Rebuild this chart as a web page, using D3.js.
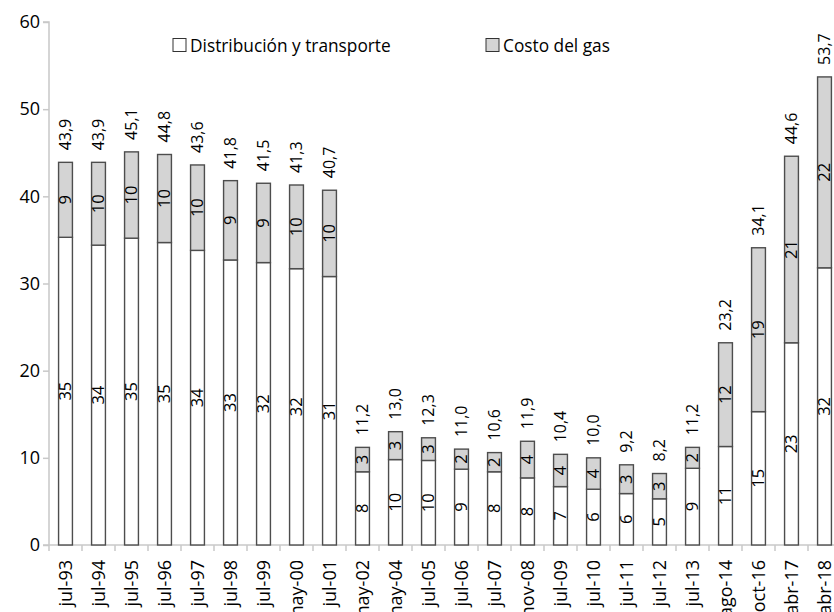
<!DOCTYPE html>
<html>
<head>
<meta charset="utf-8">
<script src="https://cdn.jsdelivr.net/npm/d3@7"></script>
<style>
  html, body { margin: 0; padding: 0; background: #fff; }
  svg { display: block; font-family: "Open Sans", sans-serif; }
</style>
</head>
<body>
<svg id="chart" width="834" height="612"></svg>
<script>
const categories = ["jul-93","jul-94","jul-95","jul-96","jul-97","jul-98","jul-99","may-00","jul-01","may-02","may-04","jul-05","jul-06","jul-07","nov-08","jul-09","jul-10","jul-11","jul-12","jul-13","ago-14","oct-16","abr-17","abr-18"];
const distribucion = [35.3,34.4,35.2,34.7,33.8,32.7,32.4,31.7,30.8,8.4,9.8,9.7,8.7,8.4,7.7,6.7,6.4,5.9,5.3,8.8,11.3,15.3,23.2,31.8];
const costoGas     = [8.6,9.5,9.9,10.1,9.8,9.1,9.1,9.6,9.9,2.8,3.2,2.6,2.3,2.2,4.2,3.7,3.6,3.3,2.9,2.4,11.9,18.8,21.4,21.9];
const seriesNames = ["Distribución y transporte", "Costo del gas"];
const seriesColors = ["#ffffff", "#d4d4d4"];
const yTicks = [0,10,20,30,40,50,60];

const svg = d3.select("#chart");
const axisX = 49, x1 = 49 + 24*33, y0 = 545, yTop = 22;

const x = d3.scaleBand().domain(categories).range([axisX, x1]).paddingInner(0.58).paddingOuter(0.29);
const y = d3.scaleLinear().domain([0, 60]).range([y0, yTop]);

const data = categories.map((c, i) => ({cat: c, d: distribucion[i], g: costoGas[i], t: distribucion[i] + costoGas[i]}));
const fmt = v => d3.format(".1f")(v).replace(".", ",");

// Y axis
const yAxis = d3.axisLeft(y).tickValues(yTicks).tickSize(6).tickPadding(3).tickFormat(d3.format("d"));
const gy = svg.append("g").attr("transform", `translate(${axisX},0)`).call(yAxis);
gy.select(".domain").attr("stroke", "#c8c8c8").attr("stroke-width", 1.5).attr("d", `M-6,${yTop}H0V${y0}`);
gy.selectAll(".tick line").attr("stroke", "#c8c8c8").attr("stroke-width", 1.5);
gy.selectAll(".tick text").attr("font-size", 18).attr("fill", "#000").attr("font-family", "Open Sans, sans-serif");

// X axis (ticks at band boundaries)
const boundaries = d3.range(categories.length + 1).map(i => axisX + i * x.step());
svg.append("line").attr("x1", axisX - 6).attr("x2", 834).attr("y1", y0).attr("y2", y0)
  .attr("stroke", "#c8c8c8").attr("stroke-width", 1.5);
svg.append("g").selectAll("line").data(boundaries).join("line")
  .attr("x1", d => d).attr("x2", d => d).attr("y1", y0).attr("y2", y0 + 6)
  .attr("stroke", "#c8c8c8").attr("stroke-width", 1.5);

// Bars
const barG = svg.append("g");
barG.selectAll("rect.dist").data(data).join("rect").attr("class", "dist")
  .attr("x", d => x(d.cat)).attr("width", x.bandwidth())
  .attr("y", d => y(d.d)).attr("height", d => y0 - y(d.d))
  .attr("fill", seriesColors[0]).attr("stroke", "#4d4d4d").attr("stroke-width", 1.4);
barG.selectAll("rect.gas").data(data).join("rect").attr("class", "gas")
  .attr("x", d => x(d.cat)).attr("width", x.bandwidth())
  .attr("y", d => y(d.t)).attr("height", d => y(d.d) - y(d.t))
  .attr("fill", seriesColors[1]).attr("stroke", "#4d4d4d").attr("stroke-width", 1.4);

// Segment labels
const cx = d => x(d.cat) + x.bandwidth() / 2;
function vlabel(sel, px, py, txt, anchor, size) {
  sel.append("text")
    .attr("transform", `translate(${px},${py}) rotate(-90)`)
    .attr("text-anchor", anchor).attr("dy", "0.35em")
    .attr("font-size", size).attr("fill", "#000").text(txt);
}
const lg = svg.append("g");
data.forEach(d => {
  vlabel(lg, cx(d), (y(d.d) + y0) / 2, Math.round(d.d), "middle", 16.5);
  vlabel(lg, cx(d), (y(d.t) + y(d.d)) / 2, Math.round(d.g), "middle", 16.5);
  vlabel(lg, cx(d), y(d.t) - 12, fmt(d.t), "start", 16);
});

// Category labels
const cg = svg.append("g");
categories.forEach(c => {
  cg.append("text")
    .attr("transform", `translate(${x(c) + x.bandwidth()/2},${y0 + 15}) rotate(-90)`)
    .attr("text-anchor", "end").attr("dy", "0.35em")
    .attr("font-size", 18).attr("fill", "#000").text(c);
});

// Legend
const legendX = [173, 486];
const leg = svg.append("g");
seriesNames.forEach((n, i) => {
  leg.append("rect").attr("x", legendX[i]).attr("y", 38.5).attr("width", 13).attr("height", 13)
    .attr("fill", seriesColors[i]).attr("stroke", "#333").attr("stroke-width", 1);
  leg.append("text").attr("x", legendX[i] + 17).attr("y", 52).attr("font-size", 17.3).attr("fill", "#000").text(n);
});
</script>
</body>
</html>
